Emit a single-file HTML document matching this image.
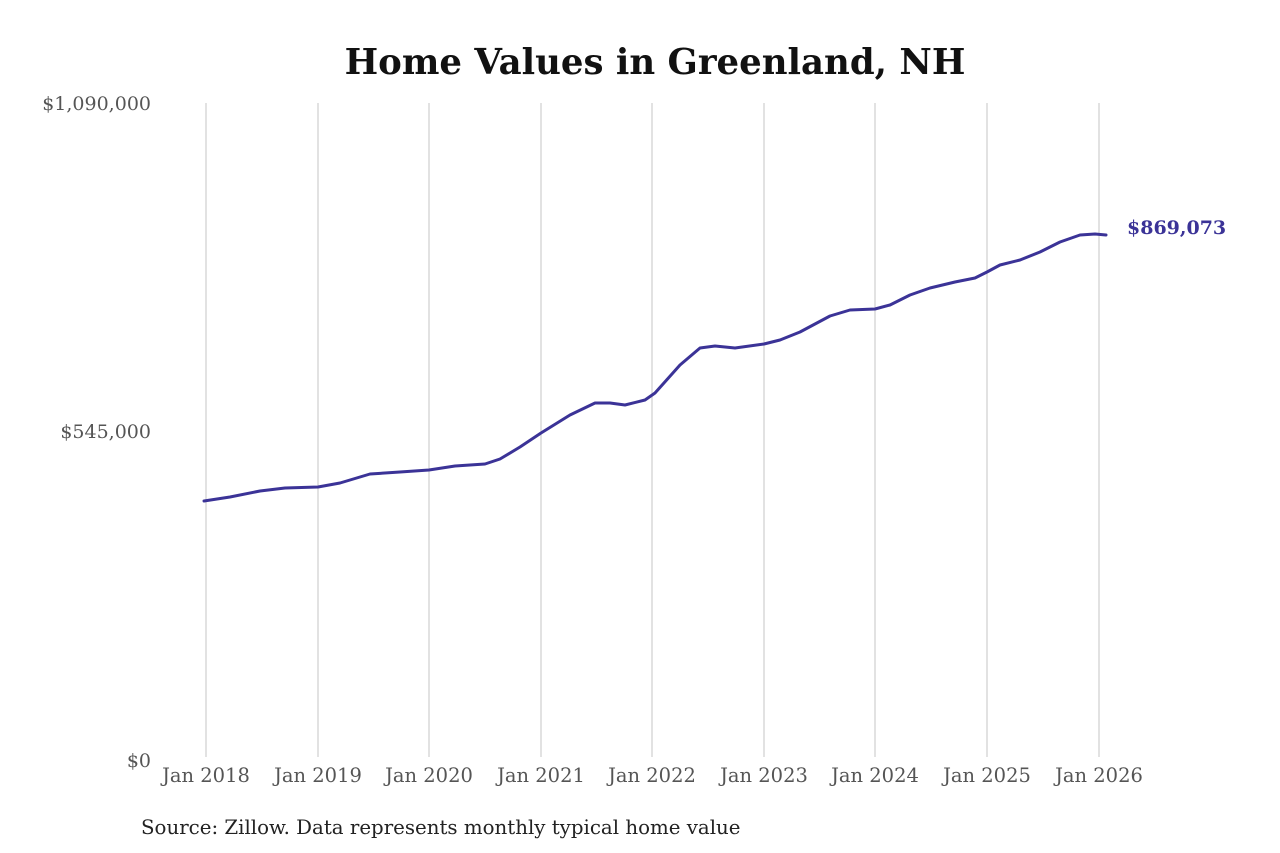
<!DOCTYPE html>
<html><head><style>
body{margin:0;background:#fff;}
svg{display:block;font-family:"DejaVu Serif",serif;}
</style></head><body>
<svg width="1280" height="853" xmlns="http://www.w3.org/2000/svg">
<text x="655" y="74" text-anchor="middle" font-size="35.5" font-weight="bold" fill="#111">Home Values in Greenland, NH</text>
<g stroke="#c4c4c4" stroke-width="1">
<line x1="206" y1="103" x2="206" y2="757"/><line x1="318" y1="103" x2="318" y2="757"/>
<line x1="429" y1="103" x2="429" y2="757"/><line x1="541" y1="103" x2="541" y2="757"/>
<line x1="652" y1="103" x2="652" y2="757"/><line x1="764" y1="103" x2="764" y2="757"/>
<line x1="875" y1="103" x2="875" y2="757"/><line x1="987" y1="103" x2="987" y2="757"/>
<line x1="1099" y1="103" x2="1099" y2="757"/>
</g>
<g font-size="19" fill="#555" text-anchor="end">
<text x="151" y="110">$1,090,000</text>
<text x="151" y="438">$545,000</text>
<text x="151" y="767">$0</text>
</g>
<g font-size="19.5" fill="#555" text-anchor="middle">
<text x="206" y="782">Jan 2018</text><text x="318" y="782">Jan 2019</text>
<text x="429" y="782">Jan 2020</text><text x="541" y="782">Jan 2021</text>
<text x="652" y="782">Jan 2022</text><text x="764" y="782">Jan 2023</text>
<text x="875" y="782">Jan 2024</text><text x="987" y="782">Jan 2025</text>
<text x="1099" y="782">Jan 2026</text>
</g>
<polyline fill="none" stroke="#3b3397" stroke-width="3" stroke-linejoin="round" stroke-linecap="round"
points="204,501 230,497 260,491 285,488 318,487 340,483 370,474 400,472 429,470 455,466 485,464 500,459 520,447 541,433 570,415 595,403 610,403 625,405 645,400 655,393 680,365 700,348 715,346 735,348 764,344 780,340 800,332 830,316 850,310 875,309 890,305 910,295 930,288 955,282 975,278 987,272 1000,265 1020,260 1040,252 1060,242 1080,235 1095,234 1106,235"/>
<text x="1127" y="234" font-size="19" font-weight="bold" fill="#3b3397">$869,073</text>
<text x="141" y="834" font-size="19.8" fill="#222">Source: Zillow. Data represents monthly typical home value</text>
</svg>
</body></html>
